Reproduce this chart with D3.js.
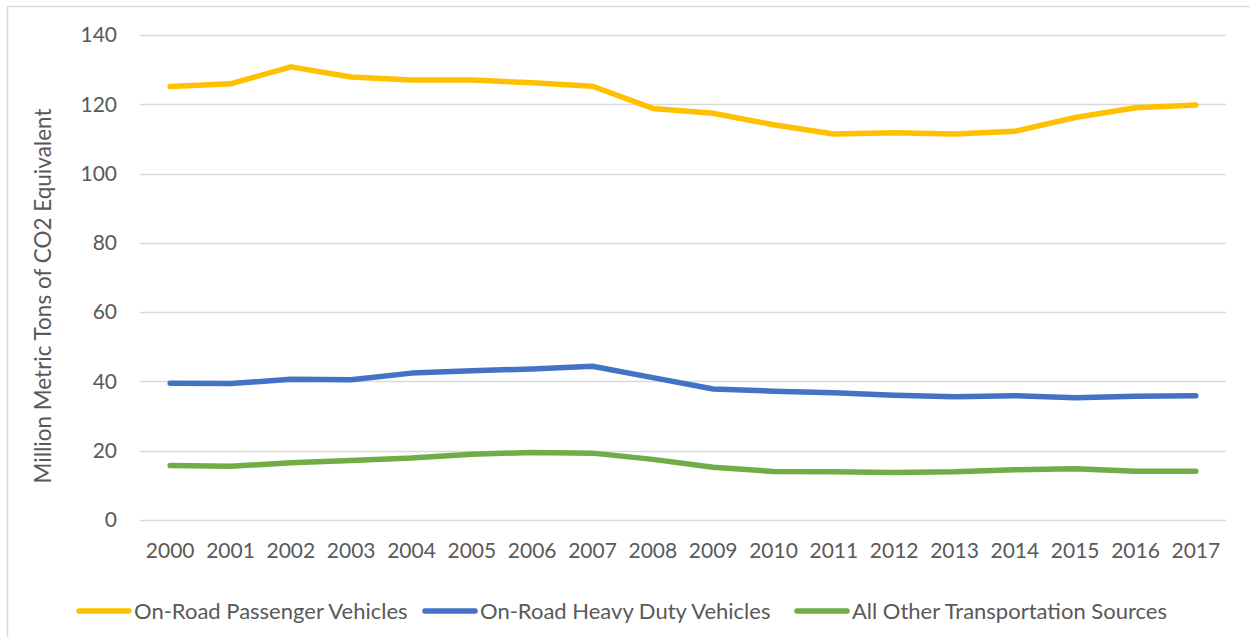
<!DOCTYPE html>
<html><head><meta charset="utf-8">
<script src="https://cdn.jsdelivr.net/npm/d3@7"></script>
<style>body{margin:0;background:#fff;} svg{display:block;}</style>
</head><body>
<svg id="c" width="1250" height="637"></svg>
<script>
const years = ["2000","2001","2002","2003","2004","2005","2006","2007","2008","2009","2010","2011","2012","2013","2014","2015","2016","2017"];
const passenger = [125.1,125.9,130.8,127.9,127.0,127.0,126.2,125.2,118.8,117.4,114.1,111.4,111.8,111.4,112.2,116.2,119.0,119.8];
const heavyDuty = [39.5,39.4,40.6,40.5,42.4,43.1,43.6,44.4,41.1,37.8,37.2,36.7,36.0,35.6,35.9,35.3,35.7,35.9];
const otherSources = [15.7,15.5,16.5,17.2,17.9,19.0,19.5,19.3,17.5,15.2,14.0,13.9,13.7,13.9,14.5,14.8,14.1,14.1];
const seriesNames = ["On-Road Passenger Vehicles","On-Road Heavy Duty Vehicles","All Other Transportation Sources"];
const seriesColors = ["#FFC000","#4472C4","#70AD47"];
const yTicks = [0,20,40,60,80,100,120,140];
const yTitle = "Million Metric Tons of CO2 Equivalent";

const svg = d3.select("#c");
const font = "Lato, 'Open Sans', sans-serif";
const textColor = "#595959";

// outer border
svg.append("rect").attr("x",7.5).attr("y",6.5).attr("width",1260).attr("height",660)
  .attr("fill","none").attr("stroke","#d9d9d9").attr("stroke-width",1.5);

const x = d3.scaleBand().domain(years).range([140,1226]);
const y = d3.scaleLinear().domain([0,140]).range([520,35]);

// gridlines
svg.append("g").selectAll("line").data(yTicks).join("line")
  .attr("x1",140).attr("x2",1226)
  .attr("y1",d=>Math.round(y(d))+0.5).attr("y2",d=>Math.round(y(d))+0.5)
  .attr("stroke","#d9d9d9").attr("stroke-width",1.5);

// y axis labels
const yAxis = svg.append("g").attr("transform","translate(126,0)")
  .call(d3.axisLeft(y).tickValues(yTicks).tickSize(0).tickPadding(0));
yAxis.select(".domain").remove();
yAxis.selectAll("text").attr("font-family",font).attr("font-size",21).attr("fill",textColor).attr("x",-9);

// x axis labels
const xAxis = svg.append("g").attr("transform","translate(0,543)")
  .call(d3.axisBottom(x).tickSize(0).tickPadding(0));
xAxis.select(".domain").remove();
xAxis.selectAll("text").attr("font-family",font).attr("font-size",21).attr("fill",textColor).attr("dy","0.71em");

// y title
svg.append("text").attr("transform","translate(51,296) rotate(-90)")
  .attr("text-anchor","middle").attr("font-family",font).attr("font-size",22.5)
  .attr("fill",textColor).text(yTitle);

// lines
const allSeries = [passenger, heavyDuty, otherSources];
const line = d3.line().x((d,i)=>x(years[i])+x.bandwidth()/2).y(d=>y(d));
svg.append("g").selectAll("path").data(allSeries).join("path")
  .attr("d",line).attr("fill","none")
  .attr("stroke",(d,i)=>seriesColors[i]).attr("stroke-width",5.5)
  .attr("stroke-linecap","round").attr("stroke-linejoin","round");

// legend
const legendX = [79,425,797];
const lg = svg.append("g").selectAll("g").data(seriesNames).join("g")
  .attr("transform",(d,i)=>`translate(${legendX[i]},611)`);
lg.append("line").attr("x1",0).attr("x2",50).attr("y1",0).attr("y2",0)
  .attr("stroke",(d,i)=>seriesColors[i]).attr("stroke-width",5.5).attr("stroke-linecap","round");
lg.append("text").attr("x",55).attr("y",0).attr("dy","0.35em")
  .attr("font-family",font).attr("font-size",22).attr("fill",textColor).text(d=>d);
</script>
</body></html>
